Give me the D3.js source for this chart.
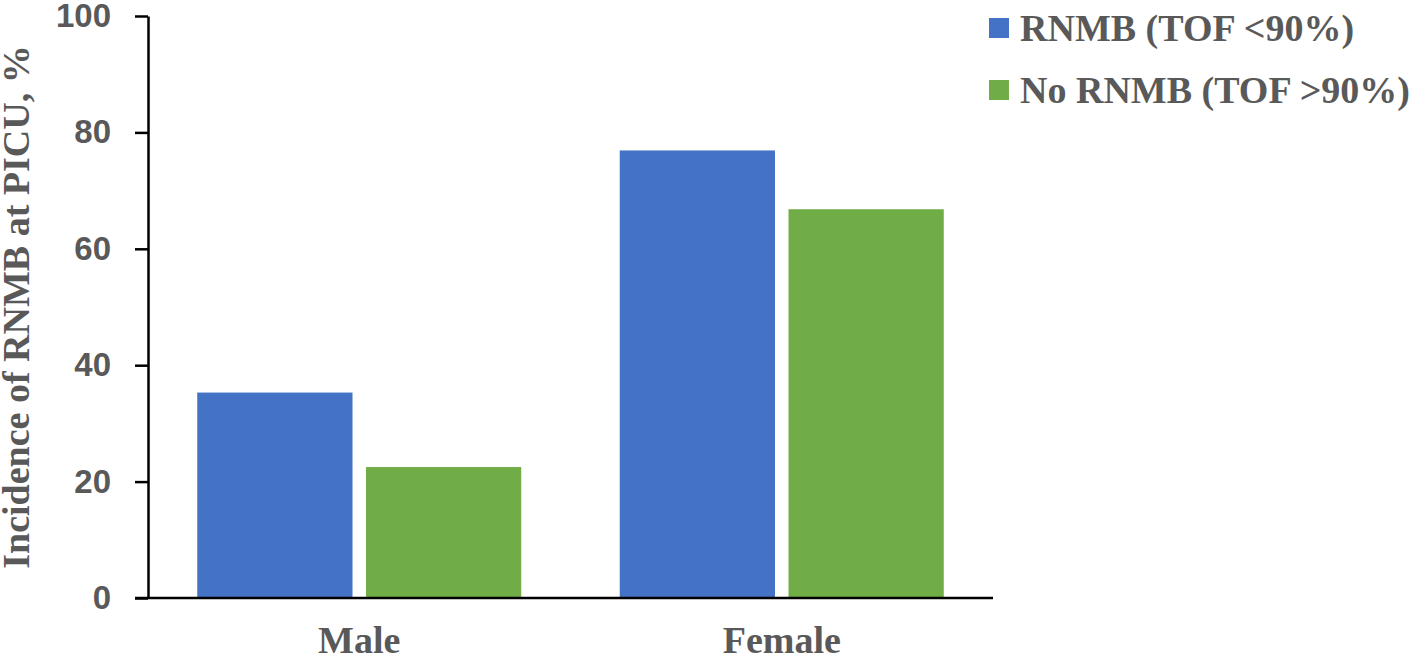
<!DOCTYPE html>
<html>
<head>
<meta charset="utf-8">
<script src="https://cdn.jsdelivr.net/npm/d3@7"></script>
<style>
  body { margin: 0; background: #fff; }
  svg { display: block; }
</style>
</head>
<body>
<svg id="viz"></svg>
<script>
const CANVAS_WIDTH = 1418
const CANVAS_HEIGHT = 655

const CATEGORIES = ['Male', 'Female']
const SERIES = ['RNMB (TOF <90%)', 'No RNMB (TOF >90%)']
const RNMB = [35.3, 76.9]
const NO_RNMB = [22.5, 66.8]
const Y_TICKS = [0, 20, 40, 60, 80, 100]

const COLORS = ['#4472C4', '#70AD47']
const TEXT_COLOR = '#595959'

const plot = { left: 148, right: 993, top: 16, bottom: 598 }
const GROUP_WIDTH = 324

const svg = d3.select('#viz')
    .attr('width', CANVAS_WIDTH)
    .attr('height', CANVAS_HEIGHT)

const x = d3.scaleBand()
    .domain(CATEGORIES)
    .range([plot.left, plot.right])

const xInner = d3.scaleBand()
    .domain(SERIES)
    .range([0, GROUP_WIDTH])
    .paddingInner(0.08)

const y = d3.scaleLinear()
    .domain([0, 100])
    .range([plot.bottom, plot.top])

const rows = CATEGORIES.map((c, i) => ({ cat: c, values: [RNMB[i], NO_RNMB[i]] }))

// bars
const groups = svg.selectAll('g.cat')
    .data(rows)
    .enter().append('g')
        .attr('class', 'cat')
        .attr('transform', d => `translate(${x(d.cat) + (x.bandwidth() - GROUP_WIDTH) / 2},0)`)

groups.selectAll('rect')
    .data(d => d.values.map((v, j) => ({ s: SERIES[j], v, j })))
    .enter().append('rect')
        .attr('x', d => xInner(d.s))
        .attr('width', xInner.bandwidth())
        .attr('y', d => y(d.v))
        .attr('height', d => y(0) - y(d.v))
        .style('fill', d => COLORS[d.j])

// y axis
const yAxis = svg.append('g')
    .attr('transform', `translate(${plot.left},0)`)
    .call(d3.axisLeft(y).tickValues(Y_TICKS).tickSize(13).tickSizeOuter(0).tickPadding(24))
yAxis.select('.domain').style('stroke', '#000').style('stroke-width', 2.5)
yAxis.selectAll('.tick line').style('stroke', '#000').style('stroke-width', 2.5)
yAxis.selectAll('.tick text')
    .style('font-family', '"Liberation Sans", Arial, sans-serif')
    .style('font-weight', 'bold')
    .style('font-size', '33px')
    .style('fill', TEXT_COLOR)

// x axis
const xAxis = svg.append('g')
    .attr('transform', `translate(0,${plot.bottom})`)
    .call(d3.axisBottom(x).tickSize(0).tickPadding(28))
xAxis.select('.domain').remove()
svg.append('line')
    .attr('x1', plot.left - 13).attr('x2', plot.right)
    .attr('y1', plot.bottom).attr('y2', plot.bottom)
    .style('stroke', '#000').style('stroke-width', 2.5)
xAxis.selectAll('.tick text')
    .style('font-family', '"Liberation Serif", "Times New Roman", serif')
    .style('font-weight', 'bold')
    .style('font-size', '38px')
    .style('fill', TEXT_COLOR)

// y title
svg.append('text')
    .attr('transform', `translate(29,${(plot.top + plot.bottom) / 2}) rotate(-90)`)
    .attr('text-anchor', 'middle')
    .style('font-family', '"Liberation Serif", "Times New Roman", serif')
    .style('font-weight', 'bold')
    .style('font-size', '38px')
    .style('fill', TEXT_COLOR)
    .text('Incidence of RNMB at PICU, %')

// legend
const legend = svg.selectAll('g.legend')
    .data(SERIES)
    .enter().append('g')
        .attr('class', 'legend')
        .attr('transform', (d, i) => `translate(989,${18 + i * 62})`)
legend.append('rect')
    .attr('width', 20).attr('height', 20)
    .style('fill', (d, i) => COLORS[i])
legend.append('text')
    .attr('x', 31).attr('y', 23)
    .style('font-family', '"Liberation Serif", "Times New Roman", serif')
    .style('font-weight', 'bold')
    .style('font-size', '38px')
    .style('fill', TEXT_COLOR)
    .text(d => d)
</script>
</body>
</html>
